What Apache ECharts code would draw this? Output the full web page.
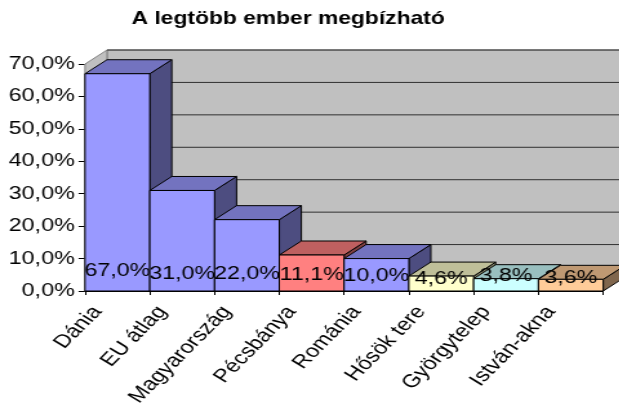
<!DOCTYPE html>
<html><head><meta charset="utf-8">
<script src="https://cdn.jsdelivr.net/npm/echarts@6/dist/echarts.min.js"></script>
<style>html,body{margin:0;padding:0;width:619px;height:403px;overflow:hidden;background:#fff}
#c{position:absolute;left:0;top:0;height:403px;transform-origin:0 0}</style></head>
<body><div id="c"></div>
<script>
var categories = ['Dánia','EU átlag','Magyarország','Pécsbánya','Románia','Hősök tere','Györgytelep','István-akna'];
var values = [67.0,31.0,22.0,11.1,10.0,4.6,3.8,3.6];
var faceColors = ['#9999FF','#9999FF','#9999FF','#FF8080','#9999FF','#FFFFCC','#CCFFFF','#FFCC99'];
var yTicks = [0,10,20,30,40,50,60,70];
var titleText = 'A legtöbb ember megbízható';

var STRETCH = 1.29, W = 619/STRETCH;
var DX = 22/STRETCH, DY = 14;
var el = document.getElementById('c');
el.style.width = W+'px';
el.style.transform = 'scaleX('+STRETCH+')';
function shade(hex,f){var n=parseInt(hex.slice(1),16);
  return 'rgb('+[(n>>16)&255,(n>>8)&255,n&255].map(function(v){return Math.round(v*f)}).join(',')+')';}
function pct(v){return v.toFixed(1).replace('.',',')+'%';}
function poly(pts,fill,stroke,lw){return {type:'polygon',shape:{points:pts},style:{fill:fill,stroke:stroke,lineWidth:lw}};}

function renderWalls(params,api){
  var cs = params.coordSys, x0=cs.x, x1=cs.x+cs.width;
  var yb=api.coord([0,0])[1], yt=api.coord([0,70])[1];
  var ch=[
    poly([[x0+DX,yt-DY],[x1+DX,yt-DY],[x1+DX,yb-DY],[x0+DX,yb-DY]],'#C0C0C0','#808080',1),
    poly([[x0,yt],[x0+DX,yt-DY],[x0+DX,yb-DY],[x0,yb]],'#C0C0C0','#808080',1)
  ];
  yTicks.forEach(function(t){
    var y=api.coord([0,t])[1]-DY;
    ch.push({type:'line',shape:{x1:x0+DX,y1:y,x2:x1+DX,y2:y},style:{stroke:'#303030',lineWidth:1}});
  });
  return {type:'group',children:ch};
}
function renderBar(params,api){
  var i=api.value(0), v=api.value(1);
  var c=api.coord([i,v]), w=api.size([1,0])[0], b=api.coord([i,0])[1];
  var l=c[0]-w/2, r=c[0]+w/2, t=c[1];
  var col=faceColors[i];
  return {type:'group',children:[
    poly([[r,t],[r+DX,t-DY],[r+DX,b-DY],[r,b]],shade(col,0.5),'#000',1),
    poly([[l,t],[l+DX,t-DY],[r+DX,t-DY],[r,t]],shade(col,0.75),'#000',1),
    poly([[l,t],[r,t],[r,b],[l,b]],col,'#000',1)
  ]};
}
function renderLabel(params,api){
  var i=api.value(0), v=api.value(1);
  var c=api.coord([i,4.5+v*0.027]);
  var nudge = i===5 ? 3 : i===7 ? 2 : 0;
  return {type:'text',style:{text:pct(v),x:c[0],y:c[1]+nudge,align:'center',verticalAlign:'middle',
    font:'18px "Liberation Sans", Arial, sans-serif',fill:'#000'}};
}
var barData = values.map(function(v,i){return [i,v];});
var chart = echarts.init(el,null,{devicePixelRatio:1});
chart.setOption({
  animation:false,
  title:{text:titleText,left:97,top:5,
    textStyle:{fontFamily:'"Liberation Sans", Arial, sans-serif',fontSize:17.7,fontWeight:'bold',color:'#000'}},
  grid:{left:85/STRETCH,right:W-603/STRETCH,top:64,bottom:112,outerBoundsMode:'none'},
  xAxis:{type:'category',data:categories,
    axisLine:{show:true,lineStyle:{color:'#000',width:1}},
    axisTick:{show:true,length:4,lineStyle:{color:'#000'}},
    axisLabel:{interval:0,rotate:52,margin:13,verticalAlign:'bottom',color:'#000',fontSize:18.5,fontFamily:'"Liberation Sans", Arial, sans-serif',padding:[0,13,0,0]}},
  yAxis:{type:'value',min:0,max:70,interval:10,
    axisLine:{show:true,lineStyle:{color:'#000',width:1}},
    axisTick:{show:true,length:5,lineStyle:{color:'#000'}},
    splitLine:{show:false},
    axisLabel:{formatter:pct,margin:8,color:'#000',fontSize:18,fontFamily:'"Liberation Sans", Arial, sans-serif',padding:[9,0,0,0]}},
  series:[
    {type:'custom',renderItem:renderWalls,data:[[0,0]],encode:{x:0,y:1},silent:true,clip:false,z:1},
    {type:'custom',renderItem:renderBar,data:barData,encode:{x:0,y:1},clip:false,z:2},
    {type:'custom',renderItem:renderLabel,data:barData,encode:{x:0,y:1},clip:false,z:3}
  ]
});
</script></body></html>
